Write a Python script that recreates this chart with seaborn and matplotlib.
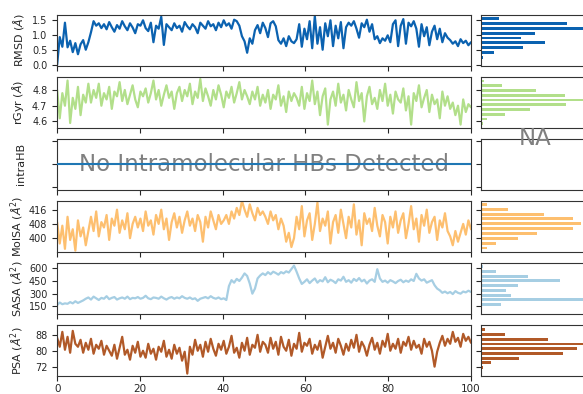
import numpy as np
import seaborn as sns
import matplotlib
matplotlib.use('Agg')
import matplotlib.pyplot as plt

# Time series (time axis 0-100, evenly spaced frames)
rmsd = [0.00,
        0.92, 0.60, 1.40, 0.58, 0.80, 0.42, 0.72, 0.35, 0.68, 0.82, 0.50, 0.75, 1.08,
        1.45, 1.30, 1.38, 1.22, 1.35, 1.18, 1.42, 1.25, 1.10, 1.32, 1.20, 1.45, 1.28,
        1.15, 1.38, 1.24, 1.05, 1.35, 1.30, 1.48, 1.22, 1.12, 1.40,
        0.75, 1.30, 1.20, 1.60, 0.66, 1.35, 1.25,
        1.15, 1.38, 1.22, 1.30, 1.10, 1.42, 1.28, 1.18, 1.35, 1.25, 1.05, 1.40, 1.30,
        1.20, 1.45, 1.28, 1.35, 1.15, 1.40, 1.25, 1.48, 1.30, 1.38, 1.20, 1.50, 1.45, 1.30,
        0.95, 0.78, 0.40, 0.88, 0.70,
        1.15, 1.32, 1.05, 1.40, 1.22, 0.92, 1.38, 1.45, 1.28,
        0.82, 0.70, 0.88, 0.62, 0.95, 0.78, 0.72, 0.85,
        1.35, 0.60, 1.20, 0.85, 1.45, 0.55, 1.62, 0.70, 1.25, 0.50,
        1.38, 0.95, 1.48, 0.62, 1.30, 0.88, 1.42, 0.55, 1.25, 1.40,
        1.30, 1.45, 1.20, 0.90, 1.38, 1.25, 1.50, 1.10, 1.35,
        0.85, 0.95, 0.72, 0.88, 0.80, 0.98, 0.75,
        1.35, 1.48, 0.62, 1.30, 1.52, 0.70, 1.40, 1.28, 1.45,
        1.20, 0.60, 1.35, 0.95, 1.25, 0.65, 1.10, 1.30, 0.85, 1.20, 0.75, 1.05, 0.90,
        0.82, 0.70, 0.78, 0.62, 0.85, 0.72, 0.80, 0.65, 0.75]

rgyr = [4.80, 4.62, 4.78, 4.70, 4.86, 4.59, 4.75, 4.68, 4.82, 4.64, 4.77, 4.72, 4.84,
        4.72, 4.80, 4.75, 4.84, 4.70, 4.78, 4.74, 4.82, 4.68, 4.79, 4.76, 4.85, 4.73, 4.80, 4.71, 4.77, 4.83, 4.74, 4.69, 4.79,
        4.76, 4.81, 4.72, 4.78, 4.86, 4.74, 4.80, 4.70, 4.77, 4.83, 4.75, 4.79, 4.68, 4.78, 4.82, 4.73, 4.80, 4.76, 4.84, 4.71,
        4.79, 4.75, 4.87, 4.73, 4.81, 4.76, 4.70, 4.80, 4.74, 4.83, 4.77, 4.69, 4.79, 4.75, 4.82, 4.72, 4.78, 4.85, 4.74, 4.80,
        4.76, 4.71, 4.79, 4.74, 4.82, 4.70, 4.77,
        4.72, 4.80, 4.68, 4.77, 4.74, 4.83, 4.70, 4.76, 4.66, 4.79, 4.73, 4.78,
        4.75, 4.70, 4.82, 4.68, 4.78, 4.73, 4.86, 4.71, 4.79, 4.64, 4.76, 4.81, 4.58, 4.74, 4.79, 4.70, 4.84, 4.72, 4.77, 4.67,
        4.80, 4.74, 4.69, 4.85, 4.73, 4.78, 4.60, 4.76, 4.82, 4.71, 4.75, 4.68, 4.80, 4.73, 4.84, 4.70, 4.77, 4.65, 4.79, 4.74,
        4.72, 4.81, 4.67, 4.76, 4.58, 4.78, 4.73, 4.83, 4.69, 4.75, 4.80, 4.66, 4.77, 4.71, 4.74, 4.62, 4.79, 4.70, 4.76, 4.68,
        4.72, 4.64, 4.70, 4.58, 4.74, 4.66, 4.71, 4.69]

molsa = [409, 397, 407, 394, 412, 399, 405, 393, 410, 401, 406, 396, 404,
         412, 404, 415, 401, 409, 406, 413, 399, 411, 407, 416, 403, 410, 405, 414, 400, 408, 412, 406,
         411, 404, 415, 407, 410, 402, 413, 408, 416, 405, 411, 399, 409, 414, 406, 412,
         403, 410, 415, 407, 411, 404, 413, 409, 398, 412, 406, 415, 410, 405, 413, 408,
         410, 413, 408, 415, 411, 417, 413, 421, 416, 412, 419, 414, 410, 417, 413, 415,
         412, 408, 415, 410, 413, 405, 411, 407,
         398, 403, 395, 400,
         412, 405, 418, 401, 410, 414, 399, 408, 420, 404, 411, 407, 415, 397, 409, 413, 403, 416, 408, 400,
         412, 406, 419, 402, 410, 396, 414, 408, 411, 404, 417, 407, 401, 413, 409, 397, 412, 406, 415, 403,
         410, 414, 400, 408, 418, 405, 411, 398, 413, 407, 416, 403, 409, 412, 399, 410, 406, 414, 404,
         401, 396, 404, 398, 403,
         408, 402, 410, 405]

sasa = [165, 195, 175, 185,
        180, 200, 185, 210, 190, 205, 220,
        240, 255, 230, 265, 245, 225, 250, 240, 270, 235, 250, 260, 230, 245, 255, 240, 265, 235, 250, 245,
        260, 240, 250, 275, 245, 235, 255, 250, 240, 265, 245, 230, 250, 260, 240, 255, 245, 270, 250, 240,
        255, 235, 245, 215, 240, 250, 260, 245, 270, 250, 240, 255, 235, 245, 225,
        390, 460, 430, 475, 450, 490,
        540, 510,
        420, 300, 360,
        480, 515, 540, 520, 555, 530, 560, 545, 525, 555, 540, 565, 550, 590,
        632,
        560, 480, 415,
        440, 470, 425, 455, 480, 430, 460, 445, 495, 435, 465, 450, 425, 470,
        455, 500, 440, 460, 430, 475, 450, 485, 445, 465, 420, 455, 470, 440,
        590,
        480, 440, 455, 430, 460, 445, 425, 450, 465, 435, 455, 440, 470, 450,
        535, 480, 455, 470, 430, 445, 460,
        400, 360, 340, 310, 325,
        305, 320, 295, 330, 310, 300, 325, 315, 335, 320]

psa = [86.5, 82.0, 89.5, 80.5, 87.0, 79.0, 90.0, 83.5,
       82.0, 85.5, 79.0, 84.0, 80.5, 86.0, 78.5, 83.0, 81.0, 85.0, 78.0, 82.5,
       80.0, 77.5, 83.0, 76.0, 81.5, 87.0, 78.0, 80.5, 75.5, 82.5, 79.0, 84.5, 77.0, 80.0, 76.5, 83.5, 78.5, 81.0, 75.5, 82.0,
       79.5, 85.0, 77.0, 80.5, 76.0, 83.0, 78.5, 81.5, 75.0, 79.5, 68.5,
       82.0, 78.0, 85.5, 80.0, 83.0, 77.0, 84.5, 79.5, 86.0, 81.0, 77.5, 83.5, 80.5, 85.0, 78.5, 82.0, 87.5, 79.0, 81.5, 76.5,
       84.0, 80.0, 86.5, 78.0, 83.0, 81.5, 88.0, 79.5, 84.5,
       83.0, 79.0, 86.5, 81.0, 84.5, 78.0, 87.0, 82.0, 80.0, 85.5, 77.5, 83.5, 81.0, 89.0, 79.5, 84.0, 82.5, 86.0, 78.5, 83.0,
       80.5, 85.0, 76.5, 82.0, 87.5, 81.0, 84.0, 79.0, 86.0, 82.5, 78.0, 83.5, 80.0, 85.5, 81.5, 88.0, 79.5, 84.5, 82.0, 77.5,
       83.0, 86.5, 80.5, 84.0, 78.5, 85.0, 82.0, 88.5, 80.0, 83.5, 81.0, 86.0, 79.0, 84.5, 82.5, 87.0, 80.5, 85.0, 81.5, 83.0,
       78.5, 86.0, 82.0, 84.5,
       80.0, 72.0, 79.5,
       84.0, 87.5, 82.5, 86.0, 83.5, 89.5, 84.5, 86.5, 82.0, 88.5, 85.0, 87.0, 84.0]

# Histogram bins (centres) and bar lengths
rmsd_bins = [1.53, 1.37, 1.21, 1.05, 0.89, 0.73, 0.57, 0.41, 0.25]
rmsd_counts = [18, 86, 130, 54, 40, 64, 42, 13, 2]
rgyr_bins = [4.857, 4.827, 4.797, 4.766, 4.736, 4.706, 4.676, 4.646, 4.616, 4.585]
rgyr_counts = [3, 21, 55, 84, 130, 85, 49, 24, 6, 2]
molsa_bins = [418.9, 416.2, 413.5, 410.8, 408.0, 405.3, 402.6, 399.9, 397.2, 394.5]
molsa_counts = [6, 27, 63, 92, 100, 92, 56, 37, 15, 6]
sasa_bins = [620, 564, 508, 452, 396, 340, 283, 227, 171]
sasa_counts = [2, 15, 47, 79, 37, 25, 30, 130, 20]
psa_bins = [90.5, 88.1, 85.7, 83.4, 81.0, 78.6, 76.2, 73.9, 71.5]
psa_counts = [4, 24, 67, 130, 96, 82, 38, 10, 2]

labels = [r'RMSD ($\AA$)', r'rGyr ($\AA$)', 'intraHB', r'MolSA ($\AA^2$)',
          r'SASA ($\AA^2$)', r'PSA ($\AA^2$)']
colors = ['#0b62b0', '#b2df8a', '#1f77b4', '#fdbf6f', '#a6cee3', '#b15928']
ylims = [(-0.03, 1.67), (4.56, 4.885), None, (392.3, 421), (60, 665), (67.3, 93)]
yticks = [[0.0, 0.5, 1.0, 1.5], [4.6, 4.7, 4.8], None, [400, 408, 416],
          [150, 300, 450, 600], [72, 80, 88]]
x_ticks = [0, 20, 40, 60, 80, 100]

sns.set_style('ticks')
plt.rcParams['font.family'] = ['DejaVu Sans']
plt.rcParams['axes.edgecolor'] = '#333333'
plt.rcParams['xtick.major.size'] = 3.5
plt.rcParams['ytick.major.size'] = 3.5

fig, axes = plt.subplots(6, 2, figsize=(5.83, 3.94), dpi=100,
                         sharex='col', sharey='row',
                         gridspec_kw=dict(width_ratios=[4, 1], left=0.098, right=1.002,
                                          top=0.963, bottom=0.0457, hspace=0.215,
                                          wspace=0.0375))

series = [(rmsd, rmsd_bins, rmsd_counts), (rgyr, rgyr_bins, rgyr_counts), None,
          (molsa, molsa_bins, molsa_counts), (sasa, sasa_bins, sasa_counts),
          (psa, psa_bins, psa_counts)]

for row in range(6):
    ax, hx = axes[row, 0], axes[row, 1]
    if series[row] is None:
        # intraHB: nothing detected
        zeros = [0] * len(rmsd)
        t = np.linspace(0, 100, len(zeros))
        ax.plot(t, zeros, color=colors[row], lw=1.5, zorder=4)
        ax.text(0.5, 0.5, 'No Intramolecular HBs Detected', transform=ax.transAxes,
                ha='center', va='center', fontsize=16.5, color='gray')
        hx.text(0.53, 1.0, 'NA', transform=hx.transAxes, ha='center', va='center',
                fontsize=16.5, color='gray')
        ax.set_ylim(-0.055, 0.055)
        ax.set_yticks([-0.05, 0, 0.05])
        ax.tick_params(axis='y', labelleft=False)
    else:
        vals, bins, counts = series[row]
        t = np.linspace(0, 100, len(vals))
        sns.lineplot(x=t, y=vals, ax=ax, color=colors[row], lw=1.6)
        step = abs(bins[0] - bins[1])
        hx.barh(bins, counts, height=0.6 * step, color=colors[row],
                linewidth=0, edgecolor='none')
        ax.set_ylim(*ylims[row])
        ax.set_yticks(yticks[row])
    ax.set_ylabel(labels[row], fontsize=8, labelpad=2)
    ax.tick_params(axis='y', labelsize=7)
    ax.tick_params(axis='x', labelsize=7.5, pad=2.5)

axes[0, 1].set_xticks([])
axes[0, 1].set_xlim(0, 103)
axes[0, 0].set_xlim(0, 100)
axes[0, 0].set_xticks(x_ticks)
fig.align_ylabels(axes[:, 0])

plt.savefig('out.png', dpi=100)
